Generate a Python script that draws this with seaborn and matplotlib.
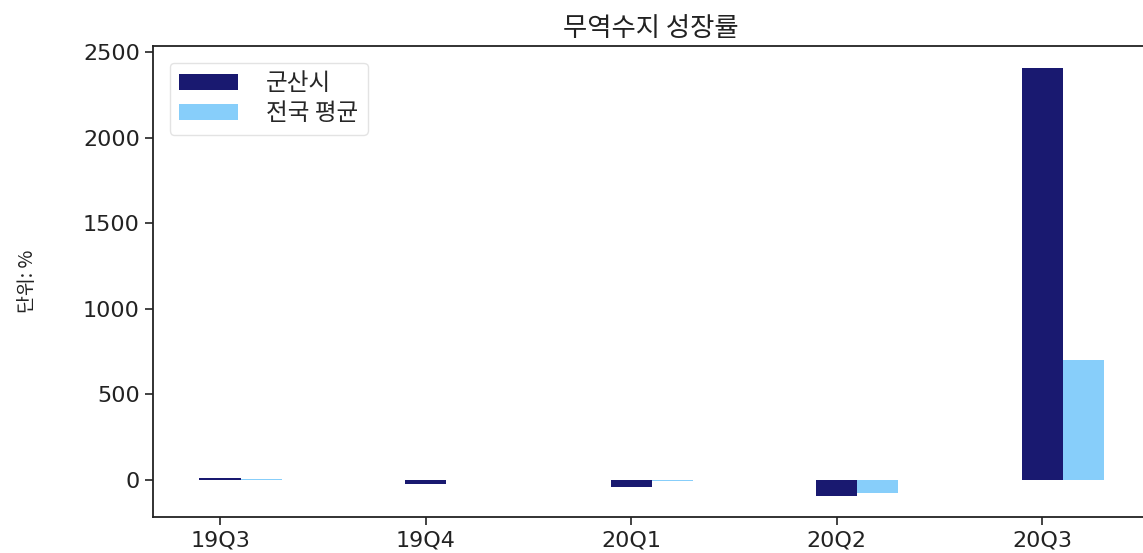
import numpy as np
import pandas as pd
import matplotlib
matplotlib.use("Agg")
import matplotlib.pyplot as plt
import seaborn as sns

# ---- data ----
quarters = ["19Q3", "19Q4", "20Q1", "20Q2", "20Q3"]
gunsan = [10, -25, -45, -97, 2410]
national = [2, -4, -10, -78, 700]
series_names = ["군산시", "전국 평균"]
colors = ["#191970", "#87CEFA"]
yticks = [0, 500, 1000, 1500, 2000, 2500]
title = "무역수지 성장률"
ylabel = "단위: %"

sns.set_theme(style="ticks")
plt.rcParams['font.family'] = ['DejaVu Sans', 'Noto Sans CJK KR']
plt.rcParams['axes.unicode_minus'] = False

df = pd.DataFrame({
    "quarter": quarters * 2,
    "series": [series_names[0]] * len(quarters) + [series_names[1]] * len(quarters),
    "value": gunsan + national,
})

W, H = 1143, 553
fig = plt.figure(figsize=(W / 100, H / 100), dpi=100)
ax = fig.add_axes([153 / W, 1 - 517 / H, (1149 - 153) / W, (517 - 46) / H])

sns.barplot(data=df, x="quarter", y="value", hue="series", order=quarters,
            hue_order=series_names, palette=colors, saturation=1, width=0.4,
            dodge=True, linewidth=0, errorbar=None, ax=ax)

ax.set_xlim(-0.426, 4.42)
ax.set_ylim(-219, 2537)
ax.set_xticks(np.arange(len(quarters)) - 0.1)
ax.set_xticklabels(quarters)
ax.set_yticks(yticks)
ax.set_xlabel("")
ax.set_ylabel(ylabel, fontsize=14, color="#222222", labelpad=32,
              family=['Noto Sans CJK KR', 'DejaVu Sans'])
ax.set_title(title, fontsize=19, color="#222222", pad=7,
             family=['Noto Sans CJK KR', 'DejaVu Sans'])

for s in ax.spines.values():
    s.set_linewidth(1.3)
    s.set_color("#222222")
ax.tick_params(axis="both", labelsize=16, length=6, width=1.2, colors="#222222")

handles, labels = ax.get_legend_handles_labels()
ax.legend(handles, labels, loc="upper left", handlelength=2.5,
          handleheight=0.65, handletextpad=1.2, borderaxespad=0.7,
          frameon=True, edgecolor="#dddddd", labelspacing=0.3,
          prop={'family': ['Noto Sans CJK KR', 'DejaVu Sans'], 'size': 17})

fig.savefig("out.png", dpi=100)
